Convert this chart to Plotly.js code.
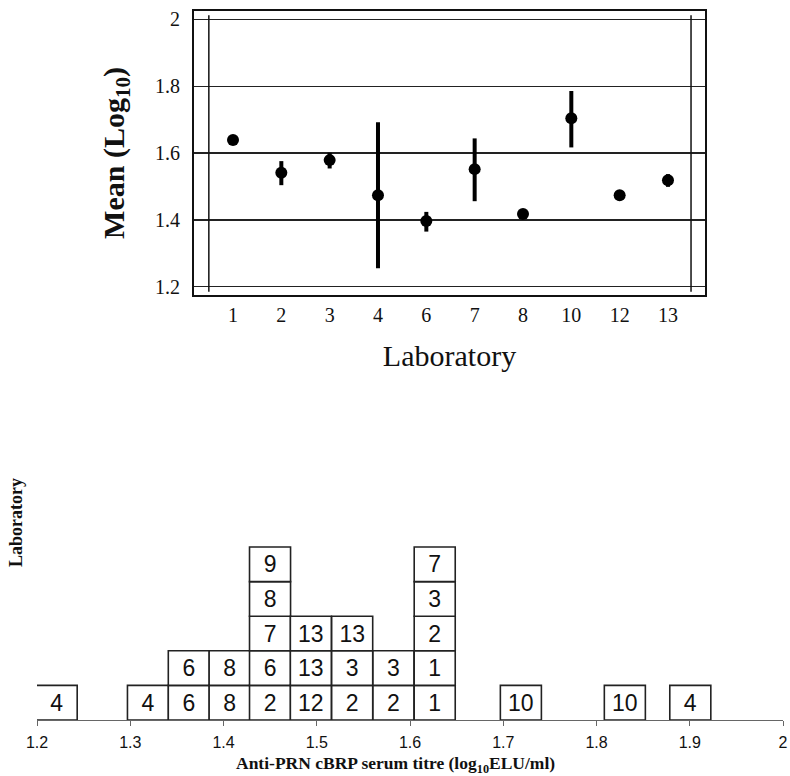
<!DOCTYPE html>
<html>
<head>
<meta charset="utf-8">
<script src="https://cdn.plot.ly/plotly-3.0.1.min.js"></script>
<style>html,body{margin:0;padding:0;background:#fff}#chart{width:790px;height:776px}</style>
</head>
<body>
<div id="chart"></div>
<script>
// ---- Top panel: laboratory means (log10) with ranges ----
var labs      = ['1', '2', '3', '4', '6', '7', '8', '10', '12', '13'];
var labMean   = [1.639, 1.541, 1.579, 1.474, 1.397, 1.552, 1.418, 1.704, 1.474, 1.519];
var labUpper  = [1.639, 1.576, 1.601, 1.692, 1.424, 1.644, 1.429, 1.786, 1.474, 1.537];
var labLower  = [1.639, 1.504, 1.554, 1.255, 1.365, 1.456, 1.404, 1.617, 1.474, 1.499];
var topYTicks = [1.2, 1.4, 1.6, 1.8, 2];
var topYTickText = ['1.2', '1.4', '1.6', '1.8', '2'];

// ---- Bottom panel: histogram of individual titres, boxes labelled by laboratory ----
var colX    = [1.2211, 1.3190, 1.3628, 1.4066, 1.4499, 1.4937, 1.5380, 1.5823, 1.6265, 1.7189, 1.8304, 1.9006];
var colLabs = [['4'], ['4'], ['6', '6'], ['8', '8'], ['2', '6', '7', '8', '9'], ['12', '13', '13'],
               ['2', '3', '13'], ['2', '3'], ['1', '1', '2', '3', '7'], ['10'], ['10'], ['4']];
var botXTicks = [1.2, 1.3, 1.4, 1.5, 1.6, 1.7, 1.8, 1.9, 2];
var botXTickText = ['1.2', '1.3', '1.4', '1.5', '1.6', '1.7', '1.8', '1.9', '2'];

var errPlus = labUpper.map(function (u, i) { return u - labMean[i]; });
var errMinus = labLower.map(function (l, i) { return labMean[i] - l; });

var boxX = [], boxBase = [], boxH = [], boxText = [];
colX.forEach(function (x, i) {
  colLabs[i].forEach(function (lab, lvl) {
    boxX.push(x); boxBase.push(lvl); boxH.push(1); boxText.push(lab);
  });
});

var serif = 'Liberation Serif, Times New Roman, serif';
var sans = 'Liberation Sans, Arial, sans-serif';

var traces = [
  {
    type: 'scatter', mode: 'markers', xaxis: 'x', yaxis: 'y',
    x: labs, y: labMean,
    marker: {color: '#000', size: 12},
    error_y: {type: 'data', symmetric: false, array: errPlus, arrayminus: errMinus,
              color: '#000', thickness: 4, width: 0},
    showlegend: false, hoverinfo: 'x+y'
  },
  {
    type: 'bar', xaxis: 'x2', yaxis: 'y2',
    x: boxX, y: boxH, base: boxBase, width: 0.044,
    text: boxText, textposition: 'inside', insidetextanchor: 'middle',
    constraintext: 'none', textangle: 0,
    textfont: {family: sans, size: 23, color: '#111'},
    marker: {color: '#fff', line: {color: '#222', width: 1.6}},
    showlegend: false, hoverinfo: 'x+text'
  }
];

var layout = {
  width: 790, height: 776,
  margin: {l: 0, r: 0, t: 0, b: 0},
  paper_bgcolor: '#fff', plot_bgcolor: '#fff',
  showlegend: false,
  bargap: 0,
  xaxis: {
    domain: [194 / 790, 705 / 790], anchor: 'y',
    type: 'category', range: [-0.807, 9.766],
    showgrid: false, zeroline: false,
    showline: true, mirror: true, linecolor: '#111', linewidth: 2,
    ticks: '', ticklabelstandoff: 1,
    tickfont: {family: serif, size: 20, color: '#111'},
    title: {text: 'Laboratory', font: {family: serif, size: 30, color: '#111'}, standoff: 20}
  },
  yaxis: {
    domain: [1 - 295 / 776, 1 - 11 / 776], anchor: 'x',
    range: [1.1752, 2.0254],
    tickvals: topYTicks, ticktext: topYTickText,
    showgrid: true, gridcolor: '#222', gridwidth: 1.5, zeroline: false,
    showline: true, mirror: true, linecolor: '#111', linewidth: 2,
    ticks: '', ticklabelstandoff: 8,
    tickfont: {family: serif, size: 20, color: '#111'},
    title: {text: '<b>Mean (Log<sub>10</sub>)</b>', font: {family: serif, size: 30, color: '#111'}, standoff: 22}
  },
  xaxis2: {
    domain: [37 / 790, 783 / 790], anchor: 'y2',
    range: [1.2, 2.0],
    tickvals: botXTicks, ticktext: botXTickText,
    showgrid: false, zeroline: false,
    showline: true, linecolor: '#666', linewidth: 1.2,
    ticks: 'outside', ticklen: 5, tickcolor: '#666', tickwidth: 1,
    ticklabelstandoff: 3,
    tickfont: {family: sans, size: 16, color: '#111'}
  },
  yaxis2: {
    domain: [1 - 720 / 776, 1 - 325 / 776], anchor: 'x2',
    range: [0, 11.42],
    showgrid: false, zeroline: false, showline: false,
    showticklabels: false, ticks: '',
    title: {text: '<b>Laboratory</b>', font: {family: serif, size: 18, color: '#111'}, standoff: 8}
  },
  annotations: [
    {xref: 'paper', yref: 'paper', x: 395 / 790, y: 1 - 764 / 776,
     xanchor: 'center', yanchor: 'middle', showarrow: false,
     text: '<b>Anti-PRN cBRP serum titre (log<sub>10</sub>ELU/ml)</b>',
     font: {family: serif, size: 17.5, color: '#111'}}
  ],
  shapes: [
    {type: 'line', xref: 'x', yref: 'y', x0: -0.5, x1: -0.5, y0: 1.185, y1: 2.013,
     line: {color: '#111', width: 1.5}},
    {type: 'line', xref: 'x', yref: 'y', x0: 9.477, x1: 9.477, y0: 1.185, y1: 2.013,
     line: {color: '#111', width: 1.5}}
  ]
};

Plotly.newPlot('chart', traces, layout, {displayModeBar: false, staticPlot: true});
</script>
</body>
</html>
